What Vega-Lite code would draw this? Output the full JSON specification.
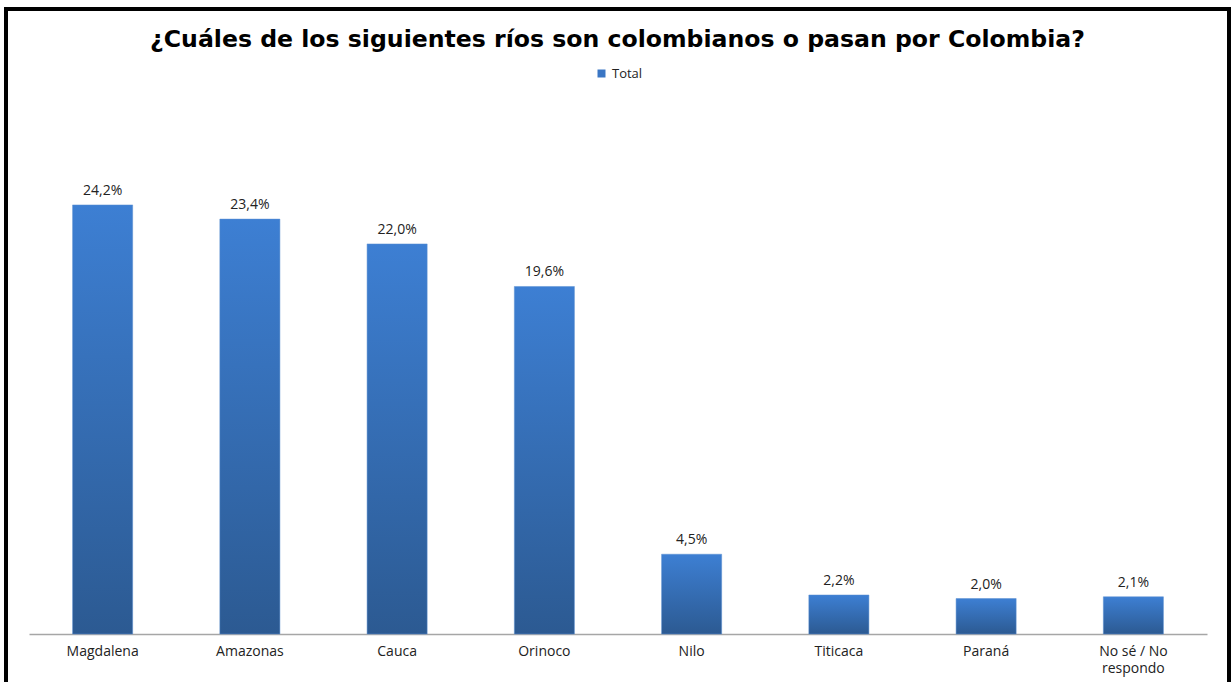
{
  "$schema": "https://vega.github.io/schema/vega-lite/v6.json",
  "width": 1223,
  "height": 700,
  "autosize": {"type": "none"},
  "padding": {"left": 6, "top": 9, "right": 2, "bottom": 0},
  "background": "white",
  "config": {
    "view": {"stroke": "black", "strokeWidth": 4},
    "font": "Open Sans"
  },
  "title": {
    "text": "¿Cuáles de los siguientes ríos son colombianos o pasan por Colombia?",
    "font": "DejaVu Sans",
    "fontSize": 23.6,
    "fontWeight": "bold",
    "color": "black",
    "anchor": "middle",
    "frame": "group",
    "offset": -43
  },
  "data": {
    "values": [
      {"rio": "Magdalena", "pct": 24.2, "label": "24,2%", "serie": "Total"},
      {"rio": "Amazonas", "pct": 23.4, "label": "23,4%", "serie": "Total"},
      {"rio": "Cauca", "pct": 22.0, "label": "22,0%", "serie": "Total"},
      {"rio": "Orinoco", "pct": 19.6, "label": "19,6%", "serie": "Total"},
      {"rio": "Nilo", "pct": 4.5, "label": "4,5%", "serie": "Total"},
      {"rio": "Titicaca", "pct": 2.2, "label": "2,2%", "serie": "Total"},
      {"rio": "Paraná", "pct": 2.0, "label": "2,0%", "serie": "Total"},
      {"rio": "No sé / No respondo", "pct": 2.1, "label": "2,1%", "serie": "Total"}
    ]
  },
  "encoding": {
    "x": {
      "field": "rio",
      "type": "nominal",
      "sort": null,
      "scale": {"range": [23, 1201], "paddingInner": 0.592, "paddingOuter": 0.296},
      "axis": {
        "title": null,
        "offset": -75,
        "labelAngle": 0,
        "labelFont": "Open Sans",
        "labelFontSize": 14,
        "labelColor": "#222222",
        "labelPadding": 10,
        "labelLineHeight": 17,
        "labelExpr": "datum.label == 'No sé / No respondo' ? ['No sé / No', 'respondo'] : datum.label",
        "ticks": false,
        "domainColor": "#a6a6a6",
        "domainWidth": 1.5,
        "grid": false
      }
    },
    "y": {
      "field": "pct",
      "type": "quantitative",
      "scale": {"domain": [-4.23, 35.25], "nice": false, "zero": false},
      "axis": null
    }
  },
  "layer": [
    {
      "mark": {
        "type": "bar",
        "fill": {
          "gradient": "linear",
          "x1": 0, "y1": 0, "x2": 0, "y2": 1,
          "stops": [
            {"offset": 0, "color": "#3d7fd3"},
            {"offset": 1, "color": "#2c5a92"}
          ]
        },
        "stroke": "#5a8fd0",
        "strokeWidth": 0.5
      },
      "encoding": {
        "y2": {"datum": 0}
      }
    },
    {
      "mark": {"type": "square", "opacity": 0, "size": 64},
      "encoding": {
        "color": {
          "field": "serie",
          "type": "nominal",
          "scale": {"range": ["#3a76c4"]},
          "legend": {
            "title": null,
            "orient": "none",
            "legendX": 589,
            "legendY": 58,
            "symbolType": "square",
            "symbolSize": 64,
            "symbolOpacity": 1,
            "symbolStrokeWidth": 0,
            "labelFont": "Open Sans",
            "labelFontSize": 13,
            "labelColor": "#222222",
            "labelOffset": 4
          }
        }
      }
    },
    {
      "mark": {
        "type": "text",
        "baseline": "middle",
        "dy": -14,
        "font": "Open Sans",
        "fontSize": 14,
        "color": "#222222"
      },
      "encoding": {
        "text": {"field": "label"}
      }
    }
  ]
}
